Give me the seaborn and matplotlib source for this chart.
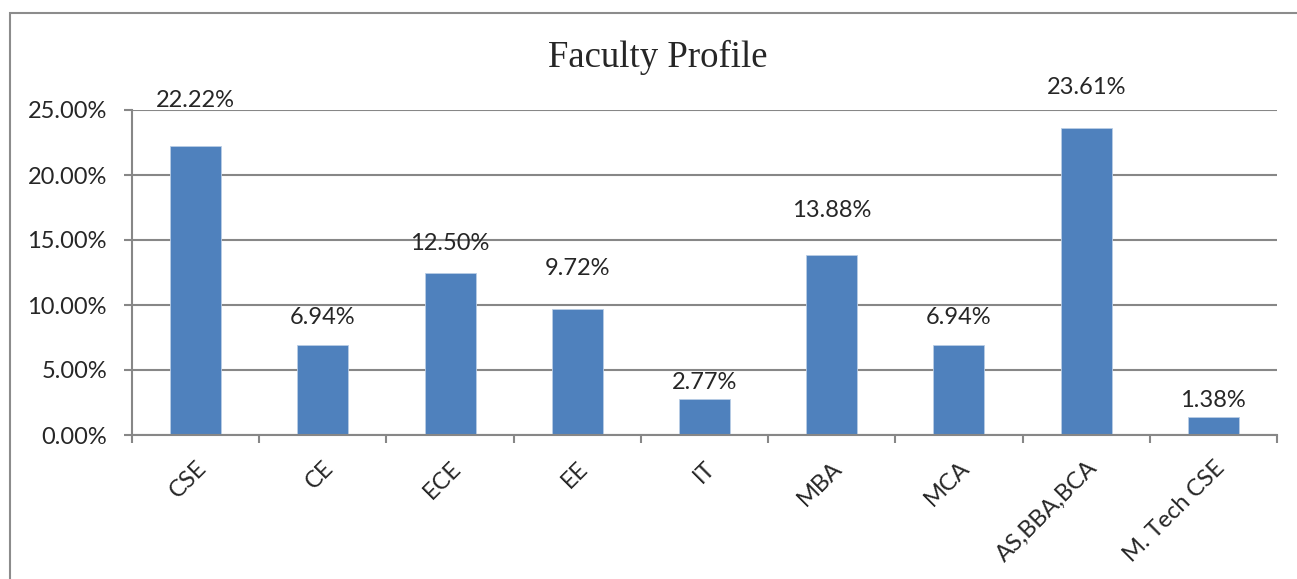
import numpy as np
import pandas as pd
import seaborn as sns
import matplotlib.pyplot as plt
from matplotlib.patches import Rectangle
from matplotlib.ticker import FuncFormatter

# Data
departments = ['CSE', 'CE', 'ECE', 'EE', 'IT', 'MBA', 'MCA', 'AS,BBA,BCA', 'M. Tech CSE']
share = [22.22, 6.94, 12.50, 9.72, 2.77, 13.88, 6.94, 23.61, 1.38]

# label offsets above bar tops (points), as placed in the original
label_offsets = [33, 20, 21, 29, 12, 32, 20, 29, 12]

sns.set_style('white')
plt.rcParams['font.family'] = ['Lato', 'DejaVu Sans']

df = pd.DataFrame({'dept': departments, 'share': share})

fig = plt.figure(figsize=(12.97, 5.79), dpi=100)
ax = fig.add_axes([132 / 1297, 1 - 435 / 579, (1277 - 132) / 1297, (435 - 110) / 579])

sns.barplot(x='dept', y='share', data=df, ax=ax, color='#4F81BD',
            saturation=1, width=0.4, edgecolor='#b9cde5', linewidth=0.6)

grid_c = '#878787'
ax.set_ylim(0, 25)
ax.set_xlim(-0.5, len(departments) - 0.5)
ax.set_yticks(np.arange(0, 26, 5))
ax.yaxis.set_major_formatter(FuncFormatter(lambda v, _: f'{v:.2f}%'))
ax.grid(axis='y', color=grid_c, linewidth=1.5)
ax.set_axisbelow(True)
for s in ['top', 'right']:
    ax.spines[s].set_visible(False)
for s in ['left', 'bottom']:
    ax.spines[s].set_color(grid_c)
    ax.spines[s].set_linewidth(1.5)

ax.set_xticks(np.arange(-0.5, len(departments), 1), minor=True)
ax.tick_params(axis='x', which='minor', length=6, width=1.5, color=grid_c, bottom=True)
ax.tick_params(axis='x', which='major', length=0, pad=16, labelsize=17)
ax.tick_params(axis='y', length=6, width=1.5, color=grid_c, left=True, labelsize=17, pad=12)
plt.setp(ax.get_xticklabels(), rotation=45, ha='right', rotation_mode='anchor')
ax.set_xlabel('')
ax.set_ylabel('')

for i, (v, off) in enumerate(zip(share, label_offsets)):
    ax.annotate(f'{v:.2f}%', (i, v), xytext=(0, off), textcoords='offset points',
                ha='center', va='center', fontsize=17)

fig.text(658 / 1297, 1 - 57 / 579, 'Faculty Profile', ha='center', va='center',
         fontsize=26.5, family='Liberation Serif')

fig.patches.append(Rectangle((10 / 1297, -0.1), 1.2, 1 - 13 / 579 + 0.1,
                             transform=fig.transFigure, fill=False,
                             edgecolor='#8c8c8c', linewidth=1.5))

plt.savefig('out.png', dpi=100)
